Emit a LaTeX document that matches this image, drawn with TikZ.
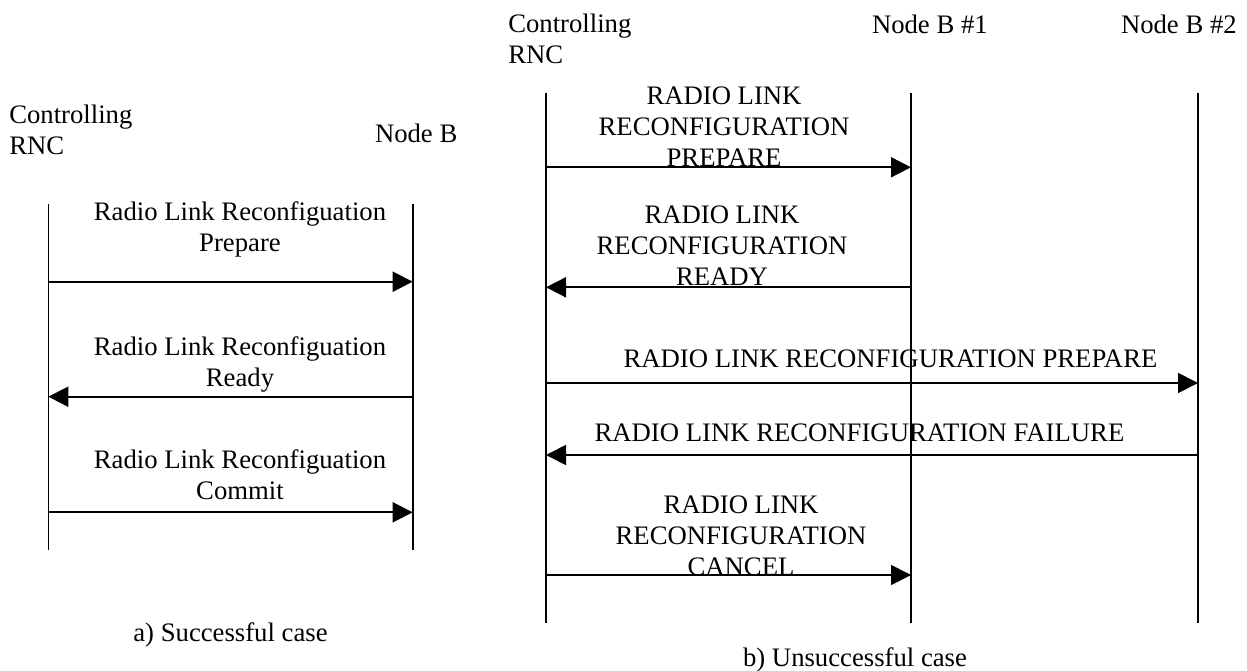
\documentclass[tikz,border=0pt]{standalone}
\usepackage{fontspec}
\setmainfont{Liberation Serif}
\usetikzlibrary{arrows.meta}
\begin{document}
\begin{tikzpicture}[x=1pt,y=-1pt,
  lbl/.style={inner sep=0pt,outer sep=0pt,font=\fontsize{26.7}{31}\selectfont},
  msglbl/.style={lbl,align=center,anchor=base},
  hdr/.style={lbl,align=left,anchor=base west},
  lifeline/.style={line width=1.6pt},
  msg/.style={line width=1.8pt,-{Triangle[length=20pt,width=20pt]}}]
\useasboundingbox (0,0) rectangle (1247,671);
% ---------- a) successful case ----------
\node[hdr] (aRNC) at (9.3,154.3) {Controlling\\RNC};
\node[hdr] (aNB) at (375,142.7) {Node B};
\coordinate (aLt) at (48.3,204);  \coordinate (aLb) at (48.3,550);
\coordinate (aRt) at (412.7,204); \coordinate (aRb) at (412.7,550);
\draw[lifeline] (aLt) -- (aLb);
\draw[lifeline] (aRt) -- (aRb);
\node[msglbl] (am1) at (240,251.7) {Radio Link Reconfiguation\\Prepare};
\coordinate (am1s) at (48.3,281.7); \coordinate (am1e) at (412.7,281.7);
\draw[msg] (am1s) -- (am1e);
\node[msglbl] (am2) at (240,386) {Radio Link Reconfiguation\\Ready};
\coordinate (am2s) at (412.7,396.7); \coordinate (am2e) at (48.3,396.7);
\draw[msg] (am2s) -- (am2e);
\node[msglbl] (am3) at (240,499.3) {Radio Link Reconfiguation\\Commit};
\coordinate (am3s) at (48.3,512.3); \coordinate (am3e) at (412.7,512.3);
\draw[msg] (am3s) -- (am3e);
\node[msglbl] (acap) at (230.5,641.7) {a) Successful case};
% ---------- b) unsuccessful case ----------
\node[hdr] (bRNC) at (508.3,63.3) {Controlling\\RNC};
\node[hdr] (bNB1) at (872,33.3) {Node B \#1};
\node[hdr] (bNB2) at (1121,33.3) {Node B \#2};
\coordinate (bAt) at (546,93);  \coordinate (bAb) at (546,623);
\coordinate (bBt) at (911,93);  \coordinate (bBb) at (911,623);
\coordinate (bCt) at (1198,93); \coordinate (bCb) at (1198,623);
\draw[lifeline] (bAt) -- (bAb);
\draw[lifeline] (bBt) -- (bBb);
\draw[lifeline] (bCt) -- (bCb);
\node[msglbl] (bm1) at (724,167) {RADIO LINK\\RECONFIGURATION\\PREPARE};
\coordinate (bm1s) at (546,167.3); \coordinate (bm1e) at (911,167.3);
\draw[msg] (bm1s) -- (bm1e);
\node[msglbl] (bm2) at (722,285) {RADIO LINK\\RECONFIGURATION\\READY};
\coordinate (bm2s) at (911,287.3); \coordinate (bm2e) at (546,287.3);
\draw[msg] (bm2s) -- (bm2e);
\node[msglbl] (bm3) at (890.5,367) {RADIO LINK RECONFIGURATION PREPARE};
\coordinate (bm3s) at (546,383); \coordinate (bm3e) at (1198,383);
\draw[msg] (bm3s) -- (bm3e);
\node[msglbl] (bm4) at (859.5,441) {RADIO LINK RECONFIGURATION FAILURE};
\coordinate (bm4s) at (1198,455); \coordinate (bm4e) at (546,455);
\draw[msg] (bm4s) -- (bm4e);
\node[msglbl] (bm5) at (741,575) {RADIO LINK\\RECONFIGURATION\\CANCEL};
\coordinate (bm5s) at (546,575); \coordinate (bm5e) at (911,575);
\draw[msg] (bm5s) -- (bm5e);
\node[msglbl] (bcap) at (855,666.7) {b) Unsuccessful case};
\end{tikzpicture}
\end{document}
